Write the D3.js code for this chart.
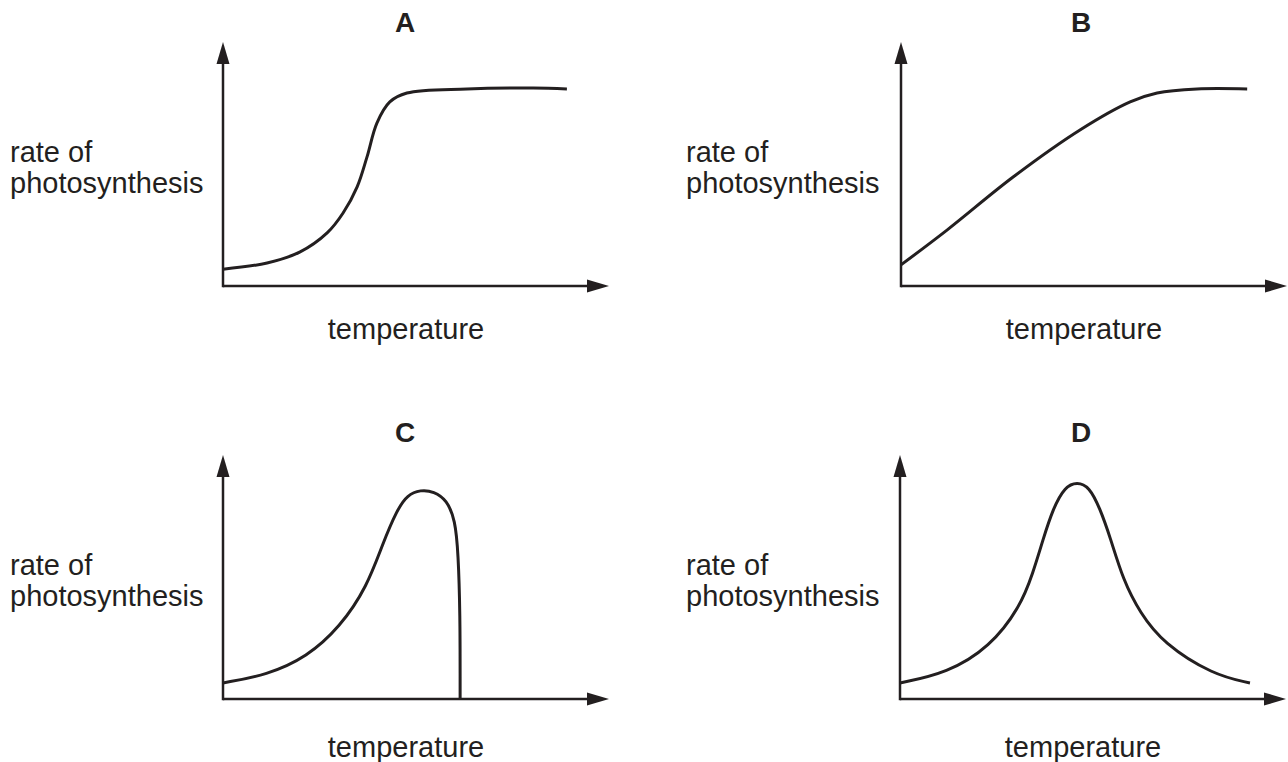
<!DOCTYPE html>
<html>
<head>
<meta charset="utf-8">
<script src="https://cdn.jsdelivr.net/npm/d3@7"></script>
<style>
  body { margin: 0; background: #fff; }
  text { font-family: "Liberation Sans", Arial, sans-serif; fill: #231f20; }
</style>
</head>
<body>
<div id="chart"></div>
<script>
// curve values, temperature 0-100 vs rate 0-100
const tempA = [0, 11.6, 20.3, 27.4, 31.6, 35.3, 37.9, 40.5, 43.9, 48.4, 64.2, 81.6, 90.5];
const rateA = [7, 9.6, 14.2, 22.1, 30.4, 41.3, 53.8, 67.9, 76.7, 80.4, 82.1, 82.5, 82.1];
const tempB = [0, 12.1, 29.5, 47.1, 60.3, 67.4, 77.9, 91.1];
const rateB = [8.8, 23.3, 45.4, 65, 76.7, 80.4, 82.1, 82.1];
const tempC = [0, 11.6, 22.1, 30.8, 37.9, 42.1, 45.8, 48.5, 52, 55.5, 58.9, 61.1, 61.9, 62.4, 62.4, 62.4];
const rateC = [6.7, 10, 17.5, 30, 46.7, 65, 78.8, 85, 87.2, 86.5, 82.9, 74.6, 60.8, 35.8, 5, 0];
const tempD = [0, 12.4, 23.7, 31.6, 35, 37.6, 40.3, 43.4, 46.6, 49.8, 52.6, 55.3, 58.7, 63.2, 69.2, 82.4, 92.1];
const rateD = [6.7, 10.8, 21.7, 38.3, 52.5, 66.3, 79.5, 88.5, 90.5, 88.5, 79.5, 67.5, 49.6, 35.8, 23.3, 10, 6.7];

const titles = ["A", "B", "C", "D"];
const yLabel = ["rate of", "photosynthesis"];
const xLabel = "temperature";

const W = 1288, H = 762;
const ink = "#231f20";
const svg = d3.select("#chart").append("svg").attr("width", W).attr("height", H);

const panels = [
  { t: tempA, r: rateA, ox: 223, oy: 286, lx: 10, curve: d3.curveCatmullRom.alpha(0.5) },
  { t: tempB, r: rateB, ox: 901, oy: 286, lx: 686, curve: d3.curveCatmullRom.alpha(0.5) },
  { t: tempC, r: rateC, ox: 223, oy: 699, lx: 10, curve: d3.curveBasis },
  { t: tempD, r: rateD, ox: 900, oy: 699, lx: 686, curve: d3.curveBasis }
];

panels.forEach((p, i) => {
  const x = d3.scaleLinear().domain([0, 100]).range([p.ox, p.ox + 380]);
  const y = d3.scaleLinear().domain([0, 100]).range([p.oy, p.oy - 240]);
  const g = svg.append("g");

  // axes with arrow heads
  const xEnd = p.ox + 386, yEnd = p.oy - 244;
  g.append("line").attr("x1", p.ox).attr("y1", p.oy).attr("x2", xEnd - 20).attr("y2", p.oy)
    .attr("stroke", ink).attr("stroke-width", 2.5);
  g.append("line").attr("x1", p.ox).attr("y1", p.oy + 1.25).attr("x2", p.ox).attr("y2", yEnd + 20)
    .attr("stroke", ink).attr("stroke-width", 2.5);
  g.append("path").attr("d", `M${xEnd},${p.oy} L${xEnd - 22},${p.oy - 6.5} L${xEnd - 22},${p.oy + 6.5} Z`)
    .attr("fill", ink);
  g.append("path").attr("d", `M${p.ox},${yEnd} L${p.ox - 6.5},${yEnd + 22} L${p.ox + 6.5},${yEnd + 22} Z`)
    .attr("fill", ink);

  const line = d3.line().x((d, k) => x(p.t[k])).y(d => y(d)).curve(p.curve);
  g.append("path").attr("d", line(p.r))
    .attr("fill", "none").attr("stroke", ink).attr("stroke-width", 3);

  // texts
  const top = i < 2 ? 0 : 1;
  g.append("text").attr("x", i % 2 ? 1081 : 405).attr("y", top ? 442 : 32)
    .attr("text-anchor", "middle").attr("font-weight", "bold").attr("font-size", 28)
    .text(titles[i]);
  g.append("text").attr("x", p.lx).attr("y", p.oy - 124).attr("font-size", 29).text(yLabel[0]);
  g.append("text").attr("x", p.lx).attr("y", p.oy - 93).attr("font-size", 29).text(yLabel[1]);
  g.append("text").attr("x", p.ox + 183).attr("y", p.oy + (top ? 58 : 53))
    .attr("text-anchor", "middle").attr("font-size", 29).text(xLabel);
});
</script>
</body>
</html>
